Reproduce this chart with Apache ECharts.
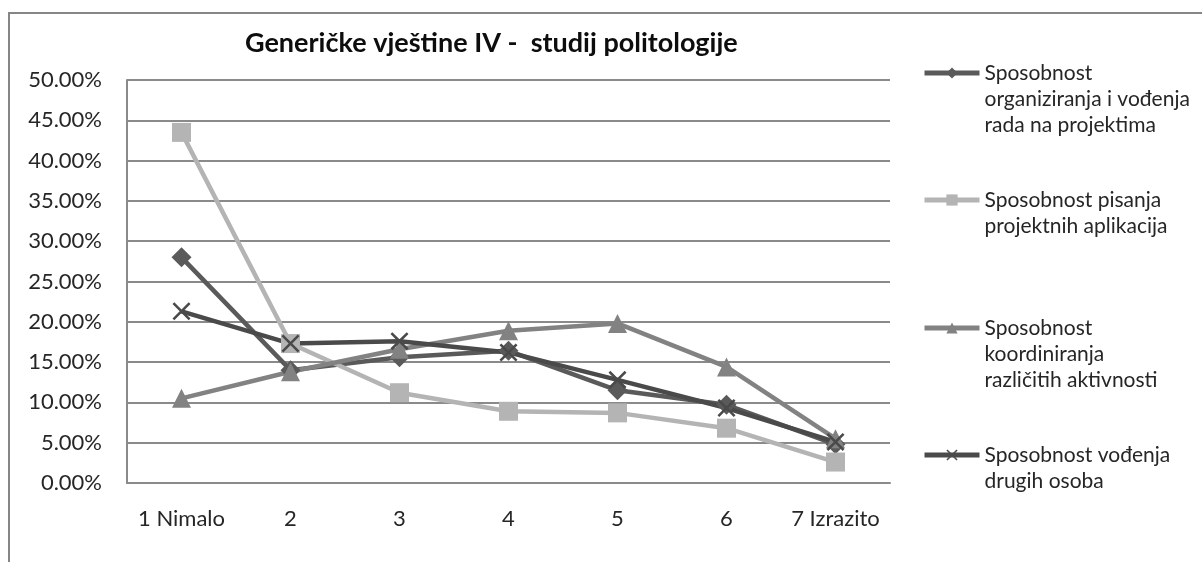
<!DOCTYPE html>
<html>
<head>
<meta charset="utf-8">
<script src="https://cdn.jsdelivr.net/npm/echarts@6/dist/echarts.min.js"></script>
<style>
  html, body { margin: 0; padding: 0; background: #fff; }
  #chart { width: 1202px; height: 562px; }
</style>
</head>
<body>
<div id="chart"></div>
<script>
const categories = ['1 Nimalo', '2', '3', '4', '5', '6', '7 Izrazito'];
const yTicks = [0, 5, 10, 15, 20, 25, 30, 35, 40, 45, 50];

const nameOrganiziranja = 'Sposobnost\norganiziranja i vođenja\nrada na projektima';
const namePisanja = 'Sposobnost pisanja\nprojektnih aplikacija';
const nameKoordiniranja = 'Sposobnost\nkoordiniranja\nrazličitih aktivnosti';
const nameVodenja = 'Sposobnost vođenja\ndrugih osoba';

// postoci (%)
const organiziranja = [28.0, 14.0, 15.6, 16.4, 11.5, 9.7, 4.8];
const pisanja = [43.5, 17.3, 11.2, 8.9, 8.7, 6.8, 2.6];
const koordiniranja = [10.5, 13.8, 16.6, 18.9, 19.8, 14.4, 5.5];
const vodenja = [21.3, 17.3, 17.6, 16.2, 12.8, 9.3, 5.1];

const FONT = 'Lato';
const TEXT = '#262626';
const GRID = '#8a8a8a';
const xMark = 'path://M0,2L2,0L10,8L18,0L20,2L12,10L20,18L18,20L10,12L2,20L0,18L8,10Z';

const chart = echarts.init(document.getElementById('chart'));

function lineSeries(name, data, color, symbol, size) {
  return {
    name: name,
    type: 'line',
    data: data,
    symbol: symbol,
    symbolSize: size,
    showAllSymbol: true,
    lineStyle: { color: color, width: 4.5 },
    itemStyle: { color: color },
    emphasis: { disabled: true },
  };
}

function legendFor(name, lines, top) {
  const pad = '\n'.repeat(lines - 1);
  return {
    data: [name],
    orient: 'vertical',
    left: 922,
    top: top,
    padding: 0,
    itemWidth: 55,
    itemHeight: 14,
    selectedMode: false,
    lineStyle: { width: 5 },
    formatter: (n) => pad + n,
    textStyle: { fontFamily: FONT, fontSize: 21, lineHeight: 26, color: TEXT },
  };
}

const option = {
  animation: false,
  title: {
    text: 'Generičke vještine IV -  studij politologije',
    left: 245,
    top: 30,
    padding: 0,
    textStyle: { fontFamily: FONT, fontSize: 27, fontWeight: 'bold', color: '#0d0d0d' },
  },
  graphic: [
    {
      type: 'rect',
      shape: { x: 9, y: 13, width: 1300, height: 700 },
      style: { fill: 'none', stroke: '#868686', lineWidth: 2 },
      silent: true,
    },
  ],
  legend: [
    legendFor(nameOrganiziranja, 3, 73 - 65),
    legendFor(namePisanja, 2, 200 - 39),
    legendFor(nameKoordiniranja, 3, 328 - 65),
    legendFor(nameVodenja, 2, 455 - 39),
  ],
  grid: { left: 127, top: 80, width: 763, height: 403, containLabel: false },
  xAxis: {
    type: 'category',
    data: categories,
    boundaryGap: true,
    axisLine: { lineStyle: { color: GRID, width: 2 } },
    axisTick: { show: false },
    axisLabel: { fontFamily: FONT, fontSize: 22, color: TEXT, margin: 25, interval: 0 },
    splitLine: { show: false },
  },
  yAxis: {
    type: 'value',
    min: yTicks[0],
    max: yTicks[yTicks.length - 1],
    interval: 5,
    axisLine: { show: true, lineStyle: { color: GRID, width: 2 } },
    axisTick: { show: false },
    axisLabel: {
      fontFamily: FONT,
      fontSize: 22,
      color: TEXT,
      margin: 25,
      formatter: (v) => v.toFixed(2) + '%',
    },
    splitLine: { show: true, lineStyle: { color: GRID, width: 2 } },
  },
  series: [
    lineSeries(nameOrganiziranja, organiziranja, '#5a5a5a', 'diamond', 20),
    lineSeries(namePisanja, pisanja, '#b4b4b4', 'rect', 19),
    lineSeries(nameKoordiniranja, koordiniranja, '#828282', 'triangle', 19),
    lineSeries(nameVodenja, vodenja, '#4a4a4a', xMark, 18),
  ],
};

chart.setOption(option);
</script>
</body>
</html>
